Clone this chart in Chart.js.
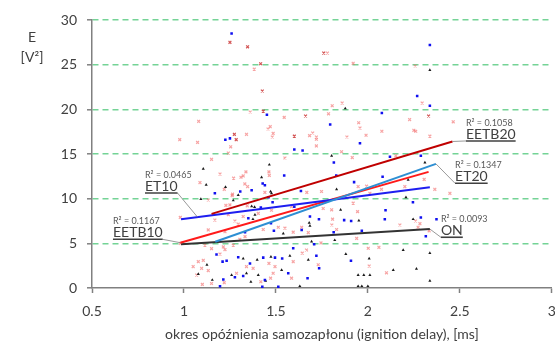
<!DOCTYPE html>
<html>
<head>
<meta charset="utf-8">
<script src="https://cdn.jsdelivr.net/npm/chart.js@4.4.0/dist/chart.umd.min.js"></script>
<style>
  body { margin: 0; background: #fff; }
  #wrap { width: 555px; height: 345px; }
</style>
</head>
<body>
<div id="wrap"><canvas id="chart" width="555" height="345"></canvas></div>
<script>
// scatter values: [delay ms, E]
const eetb10Pts = [
  [1.382,24.5],[1.36,19.7],[1.08,18.66],[1.545,19.1],[1.469,18.06],[1.457,17.8],[1.485,17.3],[1.48,16.9],[1.34,17.2],[0.977,16.6],
  [1.074,16.3],[1.254,15.8],[1.70,17.35],[1.683,17.05],[1.72,16.9],[1.72,16.65],[1.72,15.9],[1.78,26.3],[1.92,25.15],[2.257,24.85],
  [2.295,20.7],[1.86,20.7],[1.806,20.4],[1.786,19.5],[2.227,18.85],[2.464,18.6],[1.95,18.5],[1.957,17.9],[2.25,17.65],[2.26,17.55],
  [2.076,17.55],[1.99,17.1],[1.886,16.9],[2.337,17.0],[1.241,15.1],[1.549,14.55],[1.462,13.0],[1.464,12.6],[1.15,14.4],[1.196,12.75],
  [1.337,13.0],[1.322,12.55],[1.31,12.4],[1.27,12.3],[1.087,11.8],[1.331,11.65],[1.219,11.05],[1.346,11.35],[1.264,10.5],[1.262,10.35],
  [1.44,10.7],[1.132,9.85],[1.668,10.7],[1.748,10.8],[1.228,9.25],[1.25,9.3],[1.344,9.2],[1.476,8.7],[1.585,9.1],[1.241,8.2],
  [1.404,8.35],[1.322,8.0],[1.277,7.5],[1.168,7.6],[1.295,7.15],[1.431,6.55],[1.513,6.8],[1.549,6.7],[1.64,6.8],[1.676,6.2],
  [1.594,6.25],[1.223,6.3],[1.132,6.5],[1.304,5.45],[1.268,4.8],[1.332,5.75],[1.745,5.05],[1.114,4.8],[1.214,4.6],[1.223,4.3],
  [1.15,4.4],[1.196,3.8],[1.105,3.1],[1.078,2.95],[1.069,1.45],[1.132,1.95],[1.34,2.4],[1.462,2.75],[1.495,2.4],[1.594,2.95],
  [1.643,3.9],[1.666,4.25],[1.73,2.6],[1.219,0.6],[1.286,1.65],[1.376,2.2],[1.418,0.7],[1.471,1.1],[1.485,1.65],[1.585,1.1],
  [1.096,2.2],[1.05,2.4],[1.857,15.25],[1.915,14.6],[2.152,14.8],[2.306,12.15],[2.201,11.35],[1.947,11.35],[1.993,11.4],[2.074,11.05],
  [2.364,11.05],[2.446,10.6],[2.011,10.6],[1.92,9.5],[1.766,9.65],[1.757,8.9],[1.803,8.75],[1.944,8.55],[2.259,7.5],[1.808,7.7],
  [1.804,7.05],[2.174,7.05],[1.83,6.55],[1.939,5.55],[2.273,6.8],[2.283,7.2],[2.333,6.4],[2.002,4.45],[2.06,4.55],[2.007,2.45],
  [2.101,1.7],[0.98,7.9],[0.98,5.0],[1.1,0.4],[1.15,0.5]
];
const eetb20Pts = [
  [1.25,27.5],[1.346,27.0],[1.76,26.3],[1.417,25.1],[1.426,22.05],[1.431,19.8],[1.661,19.25],[1.274,17.2],[1.284,16.6],[1.60,17.0],
  [2.33,19.25]
];
const et10Pts = [
  [1.259,28.5],[1.451,19.4],[1.225,16.6],[1.25,16.75],[1.60,15.5],[2.337,27.2],[2.268,21.5],[2.337,20.4],[2.076,19.6],[1.795,18.3],
  [1.957,16.2],[1.645,15.4],[1.545,12.6],[1.428,11.7],[1.44,11.5],[1.368,10.95],[1.306,10.8],[1.168,10.6],[1.482,9.6],[1.46,10.15],
  [1.636,10.85],[1.418,9.0],[1.60,9.1],[1.35,7.8],[1.473,7.25],[1.489,6.4],[1.734,7.7],[1.685,8.0],[1.64,6.5],[1.332,6.25],
  [1.708,4.9],[1.177,3.75],[1.21,2.95],[1.232,3.05],[1.295,3.45],[1.359,2.75],[1.431,3.4],[1.495,3.4],[1.534,3.3],[1.594,4.45],
  [1.72,3.6],[1.735,2.2],[1.672,1.1],[1.513,0.15],[1.426,0.15],[1.196,0.2],[1.214,0.95],[1.277,1.2],[1.322,1.35],[1.44,0.9],
  [1.567,1.65],[1.815,14.05],[2.12,14.7],[2.288,14.8],[1.828,12.6],[2.08,12.45],[1.925,11.85],[2.245,9.6],[2.096,8.7],[2.288,7.9],
  [2.373,7.7],[1.871,7.6],[1.909,7.5],[1.814,6.25],[1.967,6.4],[2.315,5.8],[1.908,3.05],[2.092,7.7]
];
const onPts = [
  [2.337,24.4],[1.877,20.1],[1.464,13.8],[1.105,13.35],[1.422,12.4],[1.121,11.55],[1.226,11.3],[1.295,10.4],[1.471,10.8],[1.476,10.6],
  [1.092,9.95],[1.268,9.8],[1.368,9.15],[1.384,9.05],[1.386,8.2],[1.375,7.7],[1.681,7.3],[1.685,6.95],[1.54,6.1],[1.694,5.2],
  [1.125,2.6],[1.078,1.55],[1.322,3.3],[1.473,3.5],[1.398,3.15],[1.576,3.6],[1.676,3.15],[1.63,0.2],[1.154,0.9],[1.259,1.45],
  [1.34,1.65],[1.404,1.45],[1.444,0.8],[1.531,2.0],[1.364,0.7],[1.803,14.8],[2.31,14.05],[2.219,12.1],[1.83,11.05],[2.207,10.15],
  [1.852,8.75],[2.246,7.7],[1.951,7.55],[1.82,5.35],[2.192,4.25],[1.88,3.8],[2.007,3.3],[2.337,3.9],[2.138,2.0],[2.264,2.15],
  [1.947,1.45],[1.978,1.45],[2.011,1.45],[1.947,0.2],[1.967,0.2],[2.0,0.2],[2.337,0.8]
];

// trend lines (start / end) and their R²
const fitNames = ['EETB20', 'ET20', 'ET10', 'EETB10', 'ON'];
const fitR2 = ['0.1058', '0.1347', '0.0465', '0.1167', '0.0093'];
const fitX1 = [1.15, 1.17, 0.984, 0.98, 0.984];
const fitY1 = [8.3, 5.18, 7.69, 5.07, 4.89];
const fitX2 = [2.46, 2.37, 2.337, 2.33, 2.337];
const fitY2 = [16.4, 13.9, 11.28, 13.0, 6.6];
const fitColors = ['#C00000', '#2E8FD3', '#1E1EF0', '#FF1A1A', '#333333'];

const xTicks = [0.5, 1, 1.5, 2, 2.5, 3];
const yTicks = [0, 5, 10, 15, 20, 25, 30];

// label placement (data units): text left, underline y, where the leader meets the trend line
const labelLeft = [2.533, 2.474, 0.788, 0.614, 2.397];
const labelLineY = [16.46, 11.72, 10.63, 5.45, 5.68];
const labelAttachX = [2.46, 2.37, 1.074, 0.98, 2.337];

const FONT = 'Lato, "Open Sans", sans-serif';

function toXY(arr) { return arr.map(p => ({x: p[0], y: p[1]})); }

const datasets = [];
fitNames.forEach((n, i) => {
  datasets.push({
    label: n + ' fit',
    data: [{x: fitX1[i], y: fitY1[i]}, {x: fitX2[i], y: fitY2[i]}],
    showLine: true,
    borderColor: fitColors[i],
    borderWidth: 2,
    pointRadius: 0,
    pointHoverRadius: 0,
    order: 0
  });
});
datasets.push({label: 'EETB10', data: toXY(eetb10Pts), pointStyle: 'crossRot', pointRadius: 2, pointHoverRadius: 2,
  borderWidth: 1.2, borderColor: 'rgba(240,90,90,0.55)', backgroundColor: 'rgba(240,90,90,0.3)', order: 2});
datasets.push({label: 'EETB20', data: toXY(eetb20Pts), pointStyle: 'crossRot', pointRadius: 2, pointHoverRadius: 2,
  borderWidth: 1.2, borderColor: 'rgba(200,40,40,0.8)', backgroundColor: 'rgba(200,40,40,0.5)', order: 2});
datasets.push({label: 'ET10', data: toXY(et10Pts), pointStyle: 'rect', pointRadius: 1.8, pointHoverRadius: 1.8,
  borderWidth: 0, backgroundColor: '#1010F0', order: 1});
datasets.push({label: 'ON', data: toXY(onPts), pointStyle: 'triangle', pointRadius: 1.8, pointHoverRadius: 1.8,
  borderWidth: 0, backgroundColor: '#1a1a1a', order: 1});

const notesPlugin = {
  id: 'notes',
  afterDatasetsDraw(chart) {
    const ctx = chart.ctx;
    const xs = chart.scales.x, ys = chart.scales.y;
    ctx.save();
    // y axis title, two lines, not rotated
    ctx.fillStyle = '#404040';
    ctx.font = '14px ' + FONT;
    ctx.textAlign = 'center';
    ctx.textBaseline = 'middle';
    ctx.fillText('E', 32, 37);
    ctx.fillText('[V\u00B2]', 32, 57);

    ctx.textAlign = 'left';
    ctx.textBaseline = 'alphabetic';
    fitNames.forEach((n, i) => {
      const lx = xs.getPixelForValue(labelLeft[i]);
      const uy = ys.getPixelForValue(labelLineY[i]);
      ctx.font = '14px ' + FONT;
      const w = ctx.measureText(n).width;
      // leader line
      const ax = labelAttachX[i];
      const ay = fitY1[i] + (ax - fitX1[i]) * (fitY2[i] - fitY1[i]) / (fitX2[i] - fitX1[i]);
      const px = xs.getPixelForValue(ax), py = ys.getPixelForValue(ay);
      const ex = px < lx ? lx : lx + w;
      ctx.strokeStyle = '#7f7f7f';
      ctx.lineWidth = 0.8;
      ctx.beginPath();
      ctx.moveTo(px, py);
      ctx.lineTo(ex, uy);
      ctx.stroke();
      // name + underline
      ctx.fillStyle = '#404040';
      ctx.fillText(n, lx, uy - 2);
      ctx.strokeStyle = '#404040';
      ctx.lineWidth = 1.6;
      ctx.beginPath();
      ctx.moveTo(lx, uy);
      ctx.lineTo(lx + w, uy);
      ctx.stroke();
      // R² text
      ctx.font = '9px ' + FONT;
      ctx.fillStyle = '#595959';
      ctx.fillText('R\u00B2 = ' + fitR2[i], lx, uy - 15);
    });
    ctx.restore();
  }
};

new Chart(document.getElementById('chart'), {
  type: 'scatter',
  data: {datasets: datasets},
  options: {
    responsive: false,
    animation: false,
    layout: {padding: {top: 20, right: 0, bottom: 0, left: 0}},
    plugins: {legend: {display: false}, tooltip: {enabled: false}},
    scales: {
      x: {
        type: 'linear',
        min: 0.5, max: 3,
        afterBuildTicks: s => { s.ticks = xTicks.map(v => ({value: v})); },
        afterFit: s => { s.height = 57; s.paddingLeft = 0; s.paddingRight = 0; },
        ticks: {color: '#404040', font: {family: FONT, size: 14}, padding: 10,
          callback: v => String(v)},
        grid: {drawOnChartArea: false, drawTicks: true, tickLength: 5, tickColor: '#808080', tickWidth: 1.5},
        border: {color: '#808080', width: 1.5},
        title: {display: true, text: 'okres opóźnienia samozapłonu (ignition delay), [ms]',
          color: '#404040', font: {family: FONT, size: 14}, padding: {top: 2, bottom: 2}}
      },
      y: {
        type: 'linear',
        min: 0, max: 30,
        afterBuildTicks: s => { s.ticks = yTicks.map(v => ({value: v})); },
        afterFit: s => { s.width = 92; s.paddingTop = 0; s.paddingBottom = 0; },
        ticks: {color: '#404040', font: {family: FONT, size: 14}, padding: 10},
        grid: {
          color: c => (c.tick && c.tick.value === 0) ? 'rgba(0,0,0,0)' : '#74D396',
          lineWidth: 1.6, tickLength: 5, tickColor: '#808080', tickWidth: 1.5
        },
        border: {color: '#808080', width: 1.5, dash: [6, 4]}
      }
    }
  },
  plugins: [notesPlugin]
});
</script>
</body>
</html>
